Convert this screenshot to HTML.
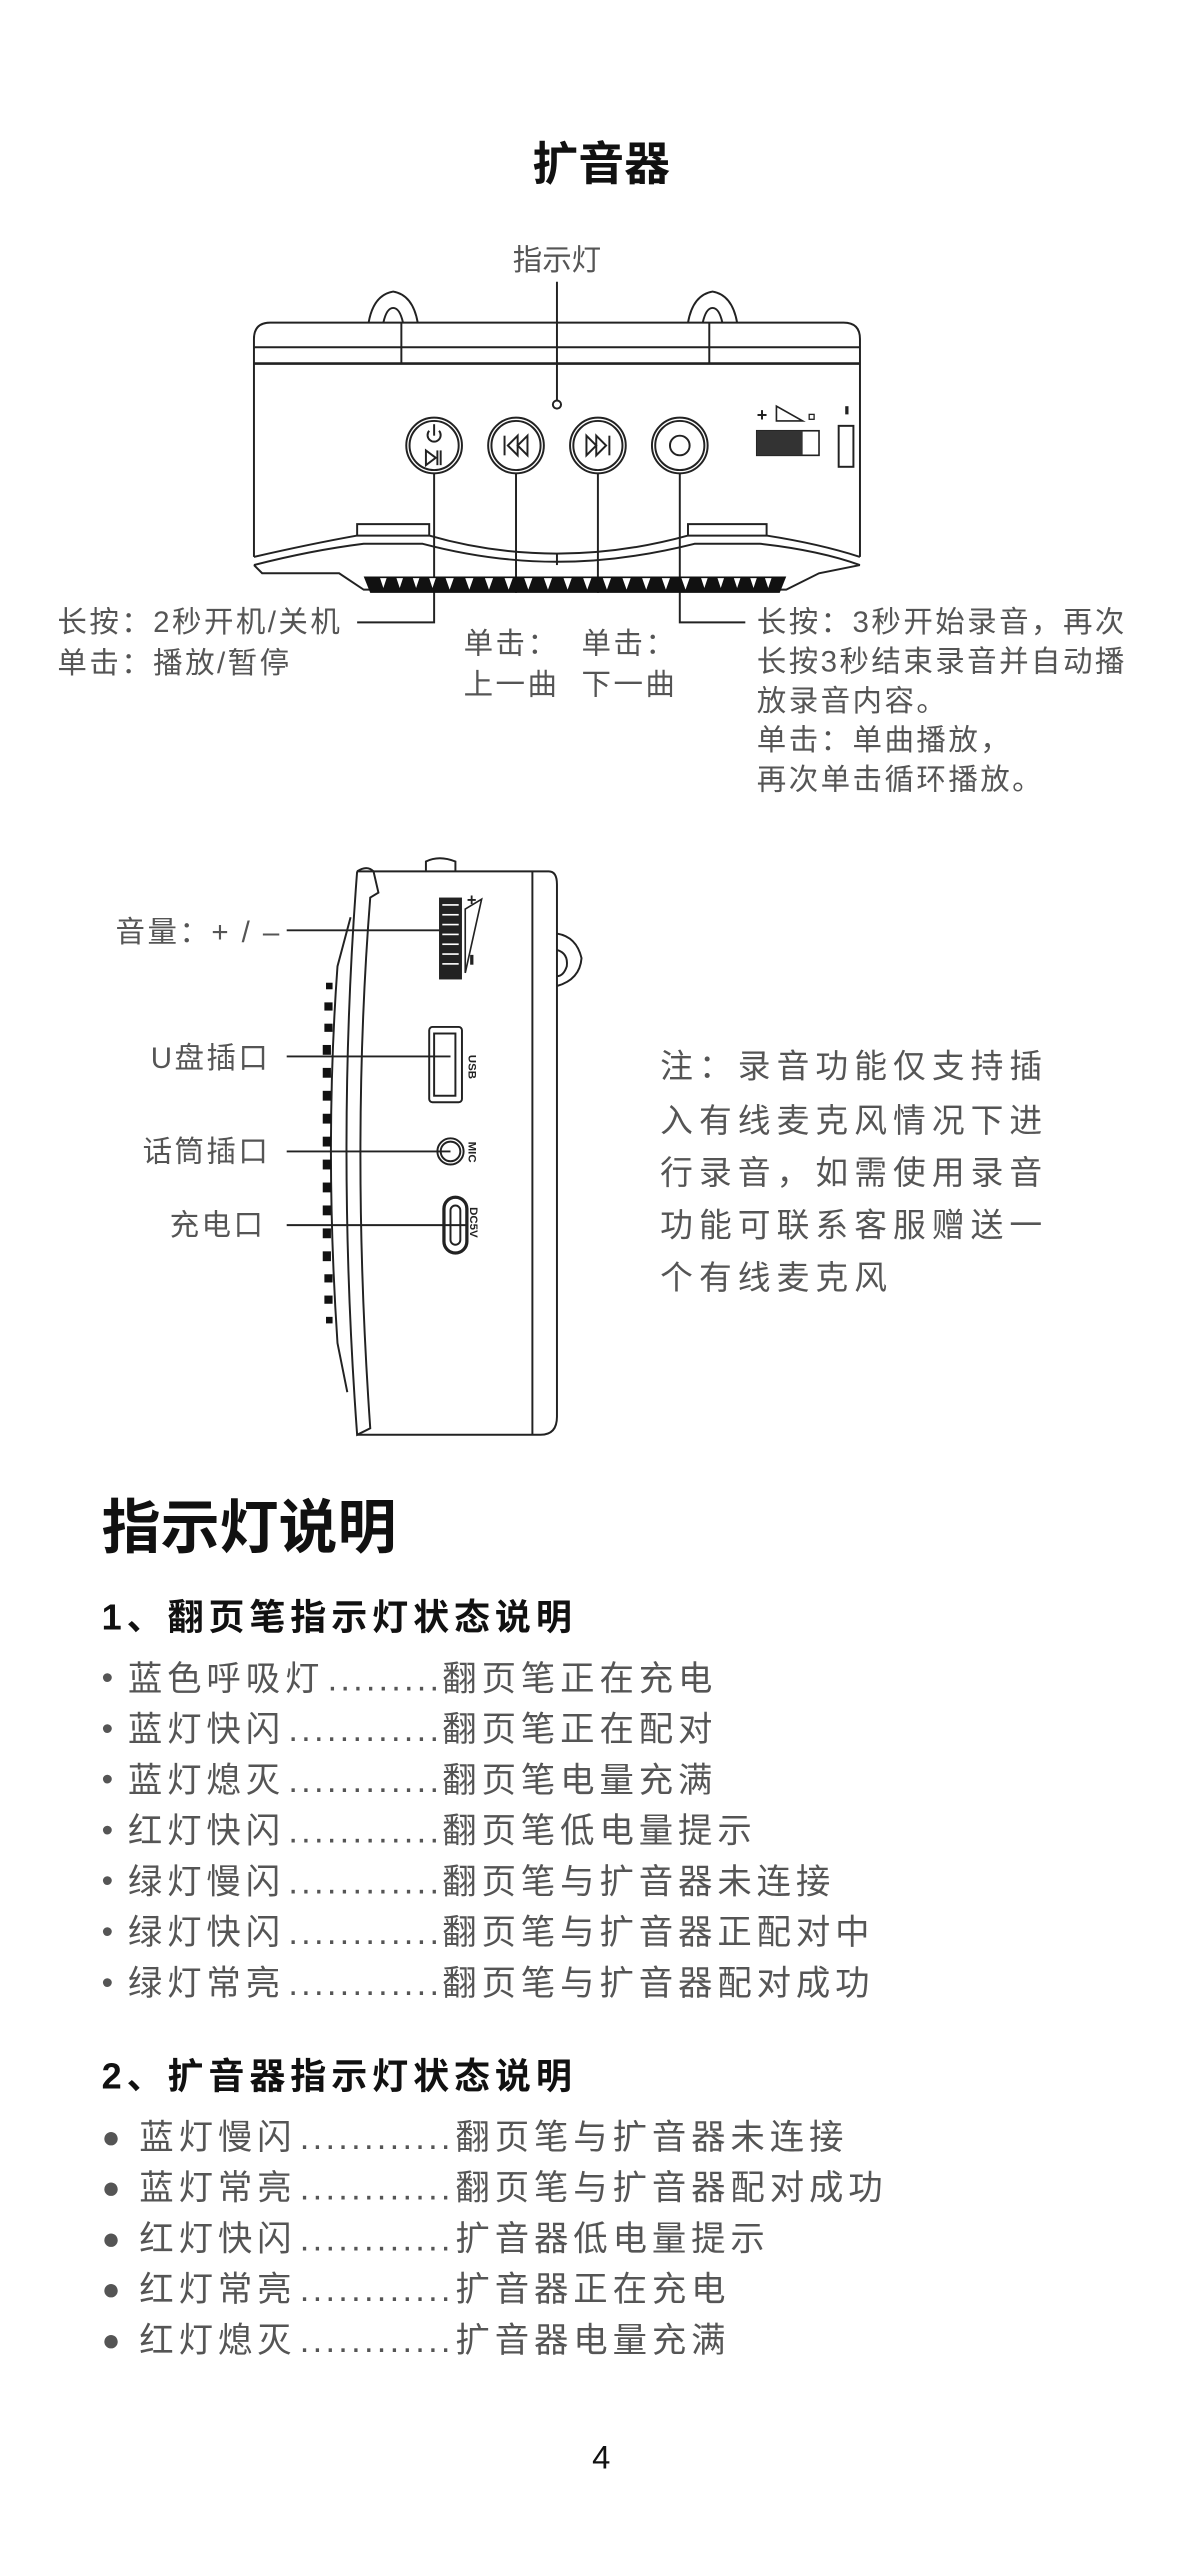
<!DOCTYPE html>
<html><head><meta charset="utf-8"><style>
html,body{margin:0;padding:0;background:#fff;}
svg{display:block;}
text{font-family:"Liberation Sans","Noto Sans CJK SC",sans-serif;}
</style></head><body>
<svg width="1204" height="2560" viewBox="0 0 735 1563" xmlns="http://www.w3.org/2000/svg">
<rect width="735" height="1563" fill="#fff"/>
<text x="367" y="110" font-size="28" font-weight="bold" text-anchor="middle" fill="#111">扩音器</text>
<text x="340" y="165" font-size="18" text-anchor="middle" fill="#555">指示灯</text>
<g fill="none" stroke="#222" stroke-width="1.2">
<line x1="340" y1="172" x2="340" y2="245"/>
<path d="M225 197 Q228 180 240 178 Q252 180 255 197"/>
<path d="M234 197 Q236 188 240 188 Q244 188 246 197"/>
<path d="M420 197 Q423 180 435 178 Q447 180 450 197"/>
<path d="M429 197 Q431 188 435 188 Q439 188 441 197"/>
<path d="M155 340 L155 207 Q155 197 165 197 L515 197 Q525 197 525 207 L525 340"/>
<line x1="155" y1="212" x2="525" y2="212"/>
<line x1="155" y1="222" x2="525" y2="222" stroke-width="1.6"/>
<line x1="245" y1="197" x2="245" y2="222"/>
<line x1="433" y1="197" x2="433" y2="222"/>
<path d="M155 340 Q190 332 218 327 L262 327 Q300 338 340 338 Q380 338 420 327 L468 327 Q500 332 525 340"/>
<path d="M155 345 Q190 336 222 332 L258 332 Q300 343 340 343 Q380 343 424 332 L464 332 Q500 336 525 345"/>
<path d="M218 327 L218 320 L262 320 L262 327"/>
<path d="M420 327 L420 320 L468 320 L468 327"/>
<line x1="340" y1="338" x2="340" y2="345"/>
<path d="M155 345 L160 350 L207 350 L222 360 L480 360 L500 350 L525 345"/>
<circle cx="340" cy="247" r="2.5"/>
<circle cx="265" cy="272" r="17"/><circle cx="265" cy="272" r="15"/>
<circle cx="315" cy="272" r="17"/><circle cx="315" cy="272" r="15"/>
<circle cx="365" cy="272" r="17"/><circle cx="365" cy="272" r="15"/>
<circle cx="415" cy="272" r="17"/><circle cx="415" cy="272" r="15"/>
<circle cx="415" cy="272" r="6"/>
<path d="M262 263 A4 4 0 1 0 268 263"/><line x1="265" y1="259" x2="265" y2="266"/>
<path d="M260 275 L260 284 L266 279.5 Z"/><line x1="267" y1="275" x2="267" y2="284"/><line x1="269" y1="275" x2="269" y2="284"/>
<line x1="308" y1="266" x2="308" y2="278"/><path d="M316 266 L310 272 L316 278 Z M322 266 L316 272 L322 278 Z"/>
<line x1="372" y1="266" x2="372" y2="278"/><path d="M358 266 L364 272 L358 278 Z M364 266 L370 272 L364 278 Z"/>
<rect x="512" y="260" width="9" height="25"/>
<polyline points="265,289 265,380 218,380"/>
<line x1="315" y1="289" x2="315" y2="362"/>
<line x1="365" y1="289" x2="365" y2="362"/>
<polyline points="415,289 415,380 455,380"/>
</g>
<g fill="#111"><path d="M222 352 L480 352 L476 362 L226 362 Z"/></g>
<g fill="#fff">
<path d="M232 353 l4 0 l-2 6z M242 353 l4 0 l-2 6z M252 353 l4 0 l-2 6z M262 353 l4 0 l-2 6z M272 353 l5 0 l-2.5 7z M284 353 l5 0 l-2.5 7z M296 353 l5 0 l-2.5 7z M308 353 l5 0 l-2.5 7z M320 353 l5 0 l-2.5 7z M332 353 l5 0 l-2.5 7z M344 353 l5 0 l-2.5 7z M356 353 l5 0 l-2.5 7z M368 353 l5 0 l-2.5 7z M380 353 l5 0 l-2.5 7z M392 353 l5 0 l-2.5 7z M404 353 l5 0 l-2.5 7z M416 353 l5 0 l-2.5 7z M428 353 l4 0 l-2 6z M438 353 l4 0 l-2 6z M448 353 l4 0 l-2 6z M458 353 l4 0 l-2 6z M467 353 l4 0 l-2 6z"/>
</g>
<text x="462" y="257" font-size="11" font-weight="bold" fill="#222">+</text>
<path d="M474 257 L474 248 L490 257 Z" fill="none" stroke="#222"/>
<rect x="494" y="253" width="3" height="3" fill="none" stroke="#222" stroke-width="0.8"/>
<rect x="462" y="263" width="38" height="15" fill="none" stroke="#222"/>
<rect x="462" y="263" width="28" height="15" fill="#333"/>
<rect x="516" y="248" width="2" height="5" fill="#222"/>
<g font-size="18" fill="#555" letter-spacing="1.5">
<text x="35" y="386">长按：2秒开机/关机</text>
<text x="35" y="411">单击：播放/暂停</text>
<text x="283" y="399">单击：</text>
<text x="355" y="399">单击：</text>
<text x="283" y="424">上一曲</text>
<text x="355" y="424">下一曲</text>
<text x="462" y="386">长按：3秒开始录音，再次</text>
<text x="462" y="410">长按3秒结束录音并自动播</text>
<text x="462" y="434">放录音内容。</text>
<text x="462" y="458">单击：单曲播放，</text>
<text x="462" y="482">再次单击循环播放。</text>
<text x="172" y="575" text-anchor="end">音量：+ / –</text>
<text x="165" y="652" text-anchor="end">U盘插口</text>
<text x="165" y="709" text-anchor="end">话筒插口</text>
<text x="162" y="754" text-anchor="end">充电口</text>
</g>
<g fill="none" stroke="#222" stroke-width="1.2">
<path d="M218 532 L335 532 Q340 532 340 540 L340 865 Q340 876 330 876 L218 876"/>
<line x1="325" y1="532" x2="325" y2="876"/>
<path d="M218 532 Q224 528 228 532 L231 545 L226 548 Q214 700 226 872 L218 876 Q205 700 218 532"/>
<path d="M214 560 L206 590 Q198 700 206 820 L212 850"/>
<path d="M260 532 L260 526 Q268 522 278 526 L278 532"/>
<path d="M340 570 Q352 572 355 585 Q354 598 340 602"/>
<path d="M340 580 Q347 582 346 590 Q344 596 340 596"/>
<rect x="262" y="627" width="20" height="46" rx="2"/>
<rect x="265" y="631" width="13" height="38"/>
<circle cx="275" cy="703" r="8"/><circle cx="275" cy="703" r="6"/>
<rect x="271" y="731" width="14" height="34" rx="7" stroke-width="2"/>
<rect x="275" y="736" width="6" height="24" rx="3"/>
<path d="M284 555 L294 549 L284 594 Z" stroke-width="1"/>
<line x1="175" y1="568" x2="270" y2="568"/>
<line x1="175" y1="645" x2="275" y2="645"/>
<line x1="175" y1="703" x2="275" y2="703"/>
<line x1="175" y1="748" x2="285" y2="748"/>
</g>
<rect x="268" y="548" width="14" height="50" fill="#222"/>
<g fill="#fff"><rect x="270" y="552" width="10" height="1"/><rect x="270" y="558" width="10" height="1"/><rect x="270" y="564" width="10" height="1"/><rect x="270" y="570" width="10" height="1"/><rect x="270" y="576" width="10" height="1"/><rect x="270" y="582" width="10" height="1"/><rect x="270" y="588" width="10" height="1"/></g>
<g fill="#111">
<rect x="199" y="600" width="4" height="4"/><rect x="198" y="612" width="5" height="5"/><rect x="198" y="625" width="5" height="5"/><rect x="197" y="638" width="5" height="6"/><rect x="197" y="652" width="5" height="6"/><rect x="197" y="666" width="5" height="6"/><rect x="197" y="680" width="5" height="6"/><rect x="197" y="694" width="5" height="6"/><rect x="197" y="708" width="5" height="6"/><rect x="197" y="722" width="5" height="6"/><rect x="197" y="736" width="5" height="6"/><rect x="197" y="750" width="5" height="6"/><rect x="197" y="764" width="5" height="6"/><rect x="198" y="778" width="5" height="5"/><rect x="198" y="791" width="5" height="5"/><rect x="199" y="804" width="4" height="4"/>
</g>
<g font-size="7" font-weight="bold" fill="#222">
<text transform="translate(286,644) rotate(90)">USB</text>
<text transform="translate(286,697) rotate(90)">MIC</text>
<text transform="translate(287,737) rotate(90)">DC5V</text>
<text transform="translate(285,553)" font-size="10">+</text>
<rect x="287" y="583" width="2" height="6"/>
</g>
<g font-size="20" fill="#555" letter-spacing="3.7">
<text x="403" y="658">注：录音功能仅支持插</text>
<text x="403" y="691">入有线麦克风情况下进</text>
<text x="403" y="723">行录音，如需使用录音</text>
<text x="403" y="755">功能可联系客服赠送一</text>
<text x="403" y="787">个有线麦克风</text>
</g>
<text x="62" y="945" font-size="36" font-weight="bold" fill="#111">指示灯说明</text>
<text x="62" y="995" font-size="22" font-weight="bold" fill="#111" letter-spacing="3">1、翻页笔指示灯状态说明</text>
<g font-size="21" fill="#555">
<g font-size="20"><text x="62" y="1031">•</text><text x="62" y="1062">•</text><text x="62" y="1093">•</text><text x="62" y="1124">•</text><text x="62" y="1155">•</text><text x="62" y="1186">•</text><text x="62" y="1217">•</text></g>
<g letter-spacing="3">
<text x="78" y="1032">蓝色呼吸灯</text><text x="270" y="1032">翻页笔正在充电</text>
<text x="78" y="1063">蓝灯快闪</text><text x="270" y="1063">翻页笔正在配对</text>
<text x="78" y="1094">蓝灯熄灭</text><text x="270" y="1094">翻页笔电量充满</text>
<text x="78" y="1125">红灯快闪</text><text x="270" y="1125">翻页笔低电量提示</text>
<text x="78" y="1156">绿灯慢闪</text><text x="270" y="1156">翻页笔与扩音器未连接</text>
<text x="78" y="1187">绿灯快闪</text><text x="270" y="1187">翻页笔与扩音器正配对中</text>
<text x="78" y="1218">绿灯常亮</text><text x="270" y="1218">翻页笔与扩音器配对成功</text>
</g>
<text x="200" y="1032" textLength="68" lengthAdjust="spacing">.........</text>
<text x="176" y="1063" textLength="92" lengthAdjust="spacing">............</text>
<text x="176" y="1094" textLength="92" lengthAdjust="spacing">............</text>
<text x="176" y="1125" textLength="92" lengthAdjust="spacing">............</text>
<text x="176" y="1156" textLength="92" lengthAdjust="spacing">............</text>
<text x="176" y="1187" textLength="92" lengthAdjust="spacing">............</text>
<text x="176" y="1218" textLength="92" lengthAdjust="spacing">............</text>
</g>
<text x="62" y="1275" font-size="22" font-weight="bold" fill="#111" letter-spacing="3">2、扩音器指示灯状态说明</text>
<g font-size="21" fill="#555">
<g font-size="19"><text x="62" y="1311">●</text><text x="62" y="1342">●</text><text x="62" y="1373">●</text><text x="62" y="1404">●</text><text x="62" y="1435">●</text></g>
<g letter-spacing="3">
<text x="85" y="1312">蓝灯慢闪</text><text x="278" y="1312">翻页笔与扩音器未连接</text>
<text x="85" y="1343">蓝灯常亮</text><text x="278" y="1343">翻页笔与扩音器配对成功</text>
<text x="85" y="1374">红灯快闪</text><text x="278" y="1374">扩音器低电量提示</text>
<text x="85" y="1405">红灯常亮</text><text x="278" y="1405">扩音器正在充电</text>
<text x="85" y="1436">红灯熄灭</text><text x="278" y="1436">扩音器电量充满</text>
</g>
<text x="183" y="1312" textLength="92" lengthAdjust="spacing">............</text>
<text x="183" y="1343" textLength="92" lengthAdjust="spacing">............</text>
<text x="183" y="1374" textLength="92" lengthAdjust="spacing">............</text>
<text x="183" y="1405" textLength="92" lengthAdjust="spacing">............</text>
<text x="183" y="1436" textLength="92" lengthAdjust="spacing">............</text>
</g>
<text x="367" y="1507" font-size="20" text-anchor="middle" fill="#111">4</text>
</svg>
</body></html>
